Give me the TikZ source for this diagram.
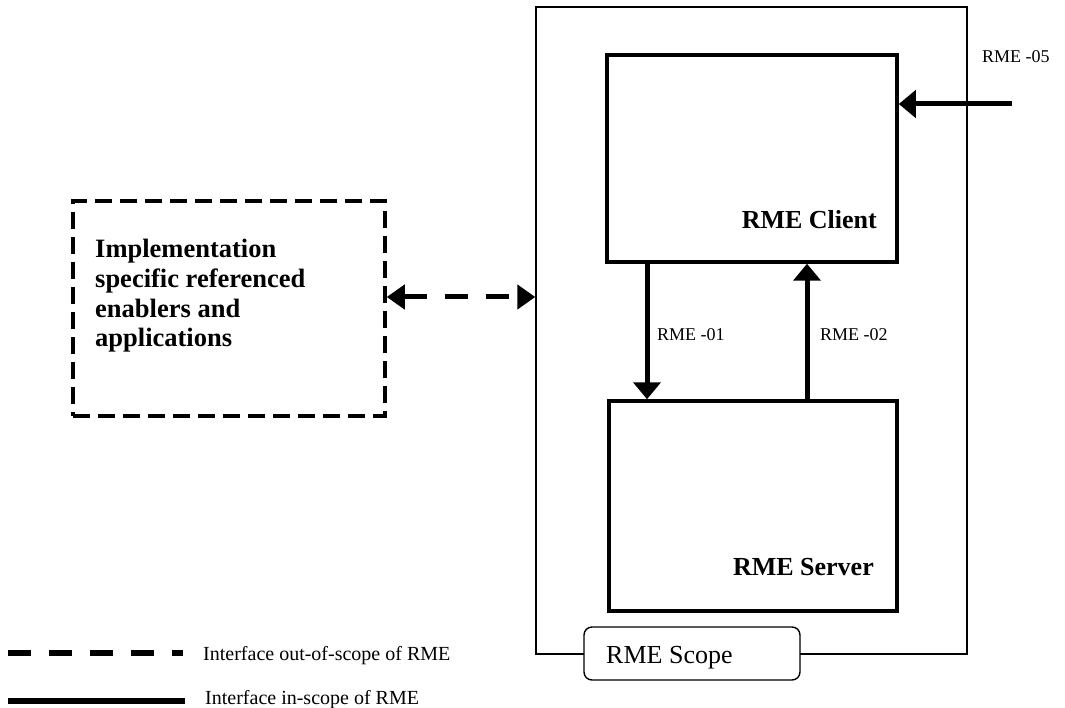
\documentclass[tikz,border=0pt]{standalone}
\usepackage{fontspec}
\setmainfont{Liberation Serif}
\usetikzlibrary{arrows.meta}
\begin{document}
\begin{tikzpicture}[x=1pt,y=-1pt,
  thinbox/.style={draw, line width=1.4pt, inner sep=0pt},
  thickbox/.style={draw, line width=3.5pt, inner sep=0pt},
  dashbox/.style={draw, line width=3.5pt, inner sep=0pt, dash pattern=on 17pt off 8pt},
  arr/.style={line width=5pt, -{Triangle[length=17pt,width=27pt]}},
  dasharr/.style={line width=5pt, dash pattern=on 23pt off 18pt, {Triangle[length=18pt,width=24pt]}-{Triangle[length=18pt,width=24pt]}},
  lbl/.style={inner sep=0pt, font=\fontsize{18}{18}\selectfont},
  boldlbl/.style={inner sep=0pt, font=\fontsize{26}{26}\selectfont\bfseries},
  legline/.style={line width=6pt},
  legtext/.style={inner sep=0pt, anchor=base west, font=\fontsize{20}{20}\selectfont}
]
\useasboundingbox (0,0) rectangle (1065,708);

% outer scope rectangle
\node[thinbox, minimum width=431pt, minimum height=647pt] (scope) at (751.5,330.5) {};
% RME client and server
\node[thickbox, minimum width=290pt, minimum height=207pt] (client) at (752,158.5) {};
\node[thickbox, minimum width=288pt, minimum height=210pt] (server) at (753,506) {};
\node[boldlbl, anchor=base east] (clientlbl) at (877,229) {RME Client};
\node[boldlbl, anchor=base east] (serverlbl) at (874,575) {RME Server};

% implementation box
\node[dashbox, minimum width=312pt, minimum height=215pt] (impl) at (229,308.5) {};
\node[inner sep=0pt, anchor=base west, align=left,
      font=\fontsize{26.5}{29.7}\selectfont\bfseries] (impllbl) at (95,347)
  {Implementation\\specific referenced\\enablers and\\applications};

% scope label
\node[draw, line width=1.4pt, fill=white, rounded corners=8pt, minimum width=216pt, minimum height=53pt, inner sep=0pt] (scopebox) at (692,653.5) {};
\node[inner sep=0pt, anchor=base west, font=\fontsize{26}{26}\selectfont] (scopelbl) at (606,663) {RME Scope};

% interfaces
\coordinate (c1) at (647,0);
\coordinate (c2) at (807,0);
\coordinate (e5) at (1012,104);
\coordinate (dy) at (0,297);
\draw[arr] (client.south -| c1) -- (server.north -| c1);
\draw[arr] (server.north -| c2) -- (client.south -| c2);
\draw[arr] (e5) -- (e5 -| client.east);
\draw[dasharr] (impl.east |- dy) -- (scope.west |- dy);

\node[lbl, anchor=base west] (l01) at (657,341) {RME -01};
\node[lbl, anchor=base west] (l02) at (820,341) {RME -02};
\node[lbl, anchor=base west] (l05) at (982,63) {RME -05};

% legend
\coordinate (la) at (8,653);
\coordinate (lb) at (183,653);
\coordinate (lc) at (8,701);
\coordinate (ld) at (185,701);
\draw[legline, dash pattern=on 23pt off 18pt] (la) -- (lb);
\draw[legline] (lc) -- (ld);
\node[legtext] (t1) at (203,660) {Interface out-of-scope of RME};
\node[legtext] (t2) at (205,704) {Interface in-scope of RME};
\end{tikzpicture}
\end{document}
